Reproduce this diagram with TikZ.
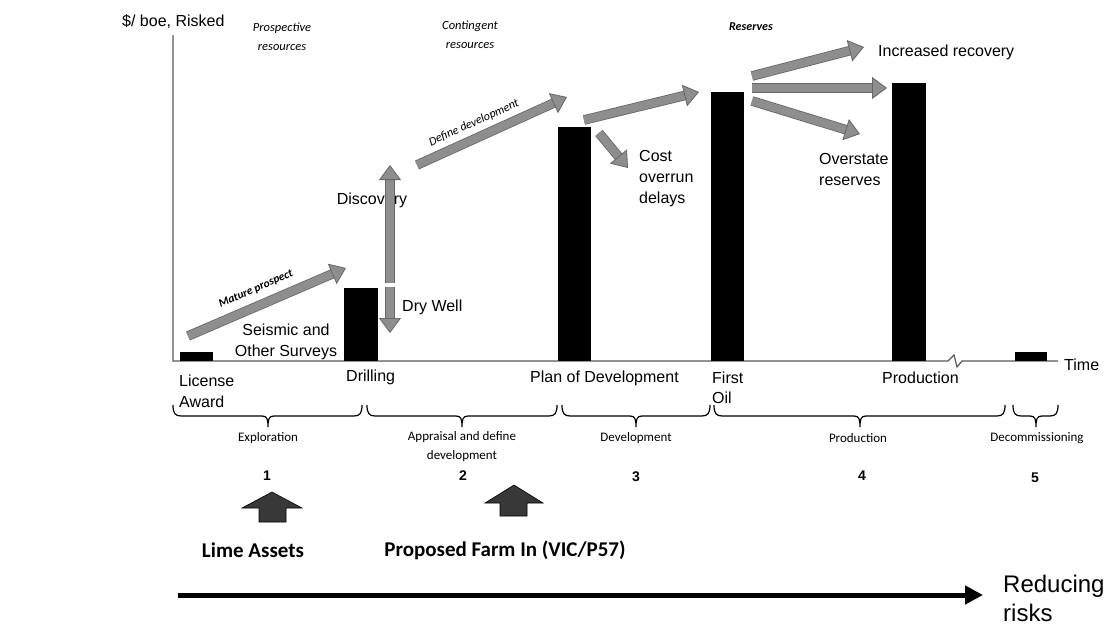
\documentclass[tikz,border=0pt]{standalone}
\usepackage{fontspec}
\setmainfont{Liberation Sans}
\newfontfamily\calib{Carlito}
\usetikzlibrary{arrows.meta}
\definecolor{arrgray}{HTML}{8E8E8E}
\newcommand{\phasebrace}[3]{%
  \draw[brk] (#1,405) .. controls (#1,413) and (#1+2,416) .. (#1+8,416)
     -- (#2-6,416) .. controls (#2-1,416) and (#2,419) .. (#2,427)
     .. controls (#2,419) and (#2+1,416) .. (#2+6,416)
     -- (#3-8,416) .. controls (#3-2,416) and (#3,413) .. (#3,405);}
\begin{document}
\begin{tikzpicture}[x=1pt,y=-1pt,
  lbl/.style={font=\fontsize{16}{21}\selectfont,inner sep=0pt,align=left},
  ital/.style={font=\calib\itshape\fontsize{12.5}{19}\selectfont,inner sep=0pt,align=center},
  phase/.style={font=\calib\fontsize{13}{19}\selectfont,inner sep=0pt,align=center},
  num/.style={font=\bfseries\fontsize{14}{15}\selectfont,inner sep=0pt},
  big/.style={font=\calib\bfseries\fontsize{21}{25}\selectfont,inner sep=0pt},
  onarrow/.style={font=\calib\bfseries\itshape\fontsize{11.5}{13}\selectfont,inner sep=0pt},
  bar/.style={fill=black,draw=none},
  axisline/.style={draw=black!65,line width=1.2pt},
  garrow/.style={line width=8pt,draw=arrgray,
     preaction={draw=black!60,line width=9.6pt,-,shorten >=12pt},
     -{Triangle[width=22pt,length=15pt,line width=0.8pt,color=black!60,fill=arrgray]}},
  brk/.style={draw=black,line width=1.2pt},
  blockarr/.style={fill=black!78,draw=black,line width=0.6pt},
  riskarrow/.style={line width=5pt,-{Triangle[width=18pt,length=18pt]}}
]
\useasboundingbox (0,0) rectangle (1117,625);

% axes
\coordinate (ytop) at (173,35);
\coordinate (org) at (173,361);
\coordinate (brk1) at (948,361);
\coordinate (brk2) at (962,361);
\coordinate (xend) at (1058,361);
\draw[axisline] (ytop) -- (org) -- (brk1) -- (954,355) -- (957,367) -- (brk2) -- (xend);

% bars
\fill[bar] (180,352) rectangle (213,361);
\fill[bar] (344,288) rectangle (378,361);
\fill[bar] (558,127) rectangle (591,361);
\fill[bar] (711,92) rectangle (744,361);
\fill[bar] (892,83) rectangle (926,361);
\fill[bar] (1015,352) rectangle (1047,361);

% top labels
\node[lbl,anchor=west] (ylab) at (122,22) {\$/ boe, Risked};
\node[ital] (pros) at (282,37) {Prospective\\resources};
\node[ital] (cont) at (470,35) {Contingent\\resources};
\node[ital,font=\calib\bfseries\itshape\fontsize{12}{14}\selectfont] (resv) at (751,27) {Reserves};

% axis labels
\node[lbl,anchor=west] (time) at (1064,365) {Time};
\node[lbl,anchor=west] (lic) at (179,391) {License\\Award};
\node[lbl,anchor=west] (drill) at (346,377) {Drilling};
\node[lbl,anchor=west] (plan) at (530,378) {Plan of Development};
\node[lbl,anchor=west,font=\fontsize{16}{20}\selectfont] (foil) at (712,388) {First\\Oil};
\node[lbl,anchor=west] (prod) at (882,378) {Production};

% chart labels
\node[lbl,align=center] (seis) at (286,342) {Seismic and\\Other Surveys};
\node[lbl] (disc) at (372,200) {Discovery};
\node[lbl,anchor=west] (dry) at (402,307) {Dry Well};
\node[lbl,anchor=west] (cost) at (639,179) {Cost\\overrun\\delays};
\node[lbl,anchor=west] (incr) at (878,52) {Increased recovery};
\node[lbl,anchor=west] (over) at (819,169) {Overstate\\reserves};

% gray arrows
\coordinate (m1) at (188,336); \coordinate (m2) at (346,268);
\draw[garrow] (m1) -- (m2);
\node[onarrow,rotate=23.5] (mat) at (256,289) {Mature prospect};

\coordinate (d0) at (390,283); \coordinate (d1) at (390,165);
\coordinate (w0) at (390,287); \coordinate (w1) at (390,333);
\draw[garrow] (d0) -- (d1);
\draw[garrow] (w0) -- (w1);

\coordinate (e1) at (417,165); \coordinate (e2) at (567,97);
\draw[garrow] (e1) -- (e2);
\node[onarrow,rotate=24.4,font=\calib\itshape\fontsize{12}{13}\selectfont] (def) at (474,123) {Define development};

\coordinate (p1) at (584,120); \coordinate (p2) at (699,92);
\draw[garrow] (p1) -- (p2);
\coordinate (c1) at (599,133); \coordinate (c2) at (628,168);
\draw[garrow] (c1) -- (c2);

\coordinate (f1) at (752,76); \coordinate (f2) at (864,47);
\coordinate (g1) at (752,88); \coordinate (g2) at (887,88);
\coordinate (h1) at (752,101); \coordinate (h2) at (860,134);
\draw[garrow] (h1) -- (h2);
\draw[garrow] (g1) -- (g2);
\draw[garrow] (f1) -- (f2);

% braces
\phasebrace{173}{268}{362}
\phasebrace{367}{462}{557}
\phasebrace{562}{636}{710}
\phasebrace{714}{860}{1005}
\phasebrace{1013}{1036}{1058}
\node[phase] (ph1) at (268,438) {Exploration};
\node[phase] (ph2) at (462,447) {Appraisal and define\\development};
\node[phase] (ph3) at (636,438) {Development};
\node[phase] (ph4) at (858,438) {Production};
\node[phase] (ph5) at (1037,438) {Decommissioning};

% numbers
\node[num] (n1) at (267,476) {1};
\node[num] (n2) at (463,476) {2};
\node[num] (n3) at (636,477) {3};
\node[num] (n4) at (862,476) {4};
\node[num] (n5) at (1035,478) {5};

% block arrows
\draw[blockarr] (272,492) -- (302,508) -- (286,508) -- (286,522) -- (259,522) -- (259,508) -- (242,508) -- cycle;
\draw[blockarr] (514,485) -- (543,503) -- (527,503) -- (527,516) -- (500,516) -- (500,503) -- (485,503) -- cycle;

\node[big] (lime) at (253,550) {Lime Assets};
\node[big] (farm) at (505,550) {Proposed Farm In (VIC/P57)};

% risk arrow
\coordinate (r1) at (178,595); \coordinate (r2) at (983,595);
\draw[riskarrow] (r1) -- (r2);
\node[lbl,anchor=west,font=\fontsize{24}{29}\selectfont] (risk) at (1003,598) {Reducing\\risks};
\end{tikzpicture}
\end{document}
